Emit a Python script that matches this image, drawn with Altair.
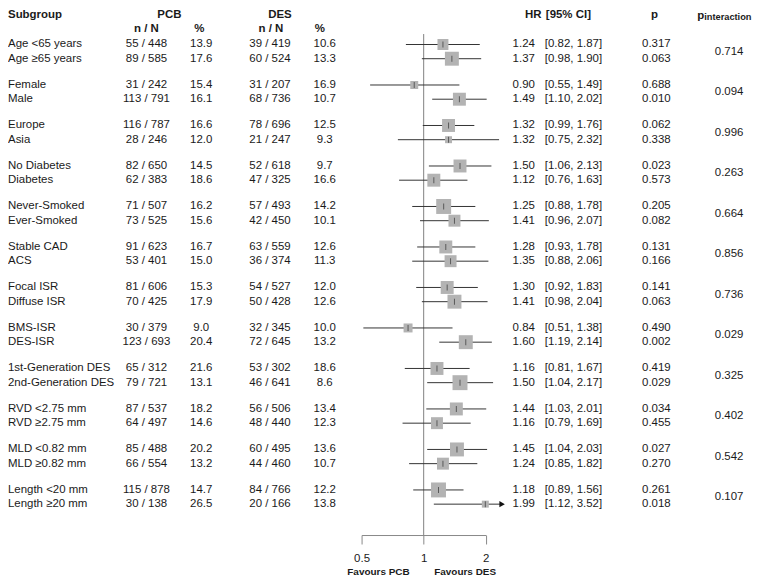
import altair as alt
import pandas as pd

# ---------------- data ----------------
subgroups = ["Age <65 years", "Age ≥65 years", "Female", "Male", "Europe", "Asia",
             "No Diabetes", "Diabetes", "Never-Smoked", "Ever-Smoked", "Stable CAD", "ACS",
             "Focal ISR", "Diffuse ISR", "BMS-ISR", "DES-ISR", "1st-Generation DES",
             "2nd-Generation DES", "RVD <2.75 mm", "RVD ≥2.75 mm", "MLD <0.82 mm",
             "MLD ≥0.82 mm", "Length <20 mm", "Length ≥20 mm"]
pcb_events = [55, 89, 31, 113, 116, 28, 82, 62, 71, 73, 91, 53, 81, 70, 30, 123, 65, 79, 87, 64, 85, 66, 115, 30]
pcb_total = [448, 585, 242, 791, 787, 246, 650, 383, 507, 525, 623, 401, 606, 425, 379, 693, 312, 721, 537, 497, 488, 554, 878, 138]
pcb_pct = [13.9, 17.6, 15.4, 16.1, 16.6, 12.0, 14.5, 18.6, 16.2, 15.6, 16.7, 15.0, 15.3, 17.9, 9.0, 20.4, 21.6, 13.1, 18.2, 14.6, 20.2, 13.2, 14.7, 26.5]
des_events = [39, 60, 31, 68, 78, 21, 52, 47, 57, 42, 63, 36, 54, 50, 32, 72, 53, 46, 56, 48, 60, 44, 84, 20]
des_total = [419, 524, 207, 736, 696, 247, 618, 325, 493, 450, 559, 374, 527, 428, 345, 645, 302, 641, 506, 440, 495, 460, 766, 166]
des_pct = [10.6, 13.3, 16.9, 10.7, 12.5, 9.3, 9.7, 16.6, 14.2, 10.1, 12.6, 11.3, 12.0, 12.6, 10.0, 13.2, 18.6, 8.6, 13.4, 12.3, 13.6, 10.7, 12.2, 13.8]
hr = [1.24, 1.37, 0.90, 1.49, 1.32, 1.32, 1.50, 1.12, 1.25, 1.41, 1.28, 1.35, 1.30, 1.41, 0.84, 1.60, 1.16, 1.50, 1.44, 1.16, 1.45, 1.24, 1.18, 1.99]
ci_low = [0.82, 0.98, 0.55, 1.10, 0.99, 0.75, 1.06, 0.76, 0.88, 0.96, 0.93, 0.88, 0.92, 0.98, 0.51, 1.19, 0.81, 1.04, 1.03, 0.79, 1.04, 0.85, 0.89, 1.12]
ci_high = [1.87, 1.90, 1.49, 2.02, 1.76, 2.32, 2.13, 1.63, 1.78, 2.07, 1.78, 2.06, 1.83, 2.04, 1.38, 2.14, 1.67, 2.17, 2.01, 1.69, 2.03, 1.82, 1.56, 3.52]
p_values = [0.317, 0.063, 0.688, 0.010, 0.062, 0.338, 0.023, 0.573, 0.205, 0.082, 0.131, 0.166, 0.141, 0.063, 0.490, 0.002, 0.419, 0.029, 0.034, 0.455, 0.027, 0.270, 0.261, 0.018]
p_interaction = [0.714, 0.094, 0.996, 0.263, 0.664, 0.856, 0.736, 0.029, 0.325, 0.402, 0.542, 0.107]
weights = [11, 14, 8, 13, 13, 7, 13, 13, 15, 12, 13, 12, 13, 14, 9, 14, 13, 15, 13, 12, 14, 12, 15, 7]
axis_ticks = [0.5, 1, 2]

# ---------------- layout ----------------
FONT = "Liberation Sans"
FS = 11.5
TXT = "#1a1a1a"
GROUP_STEP = 2.85
X_CLIP = 2.40
n_groups = len(p_interaction)

rows = pd.DataFrame({
    "label": subgroups,
    "pcb_nN": [f"{a} / {b}" for a, b in zip(pcb_events, pcb_total)],
    "pcb_pct": [f"{v:.1f}" for v in pcb_pct],
    "des_nN": [f"{a} / {b}" for a, b in zip(des_events, des_total)],
    "des_pct": [f"{v:.1f}" for v in des_pct],
    "hr": hr,
    "lo": ci_low,
    "hi": ci_high,
    "hi_draw": [min(h, X_CLIP) for h in ci_high],
    "clipped": [h > X_CLIP for h in ci_high],
    "hr_txt": [f"{v:.2f}" for v in hr],
    "ci_txt": [f"[{a:.2f}, {b:.2f}]" for a, b in zip(ci_low, ci_high)],
    "p_txt": [f"{v:.3f}" for v in p_values],
    "weight": weights,
    "pos": [(i // 2) * GROUP_STEP + (i % 2) for i in range(len(subgroups))],
})
rows["arrow_x"] = X_CLIP

groups = pd.DataFrame({
    "pint": [f"{v:.3f}" for v in p_interaction],
    "pos": [g * GROUP_STEP + 0.5 for g in range(n_groups)],
})

yscale = alt.Scale(domain=[0, (n_groups - 1) * GROUP_STEP + 1], range=[35.5, 497], nice=False, zero=False)
xscale = alt.Scale(type="log", domain=[0.5, 2], range=[355, 479.7], nice=False)
xaxis = alt.Axis(values=axis_ticks, format="~g", title=None, grid=False,
                 domainColor="#888888", tickColor="#888888", tickSize=9,
                 labelFont=FONT, labelFontSize=FS, labelColor=TXT, labelPadding=9,
                 labelFlush=False)

Y = alt.Y("pos:Q", scale=yscale, axis=None)

ref = alt.Chart(pd.DataFrame({"x": [1]})).mark_rule(color="#808080", strokeWidth=1).encode(
    x=alt.X("x:Q", scale=xscale, axis=xaxis), y=alt.value(25), y2=alt.value(528))

base = alt.Chart(rows)
ci = base.mark_rule(color="#333333", strokeWidth=1).encode(
    x=alt.X("lo:Q", scale=xscale, axis=xaxis), x2="hi_draw:Q", y=Y)
boxes = base.mark_square(color="#b3b3b3", opacity=1).encode(
    x=alt.X("hr:Q", scale=xscale, axis=xaxis), y=Y,
    size=alt.Size("weight:Q", scale=alt.Scale(type="pow", exponent=2, domain=[0, 15], range=[0, 225]), legend=None))
ticks = base.mark_tick(color="#333333", thickness=1, size=6, orient="vertical").encode(
    x=alt.X("hr:Q", scale=xscale, axis=xaxis), y=Y)
arrows = base.transform_filter("datum.clipped").mark_point(
    shape="triangle-right", filled=True, color="#111111", size=40, opacity=1).encode(
    x=alt.X("arrow_x:Q", scale=xscale, axis=xaxis), y=Y)


def col(field, x, align):
    return base.mark_text(align=align, baseline="middle", font=FONT, fontSize=FS, color=TXT).encode(
        text=f"{field}:N", x=alt.value(x), y=Y)


def label(txt, x, y, align="left", bold=True, size=FS, baseline="middle"):
    return alt.Chart(pd.DataFrame({"t": [txt]})).mark_text(
        align=align, baseline=baseline, font=FONT, fontSize=size,
        fontWeight="bold" if bold else "normal", color=TXT).encode(
        text="t:N", x=alt.value(x), y=alt.value(y))


pint_col = alt.Chart(groups).mark_text(align="center", baseline="middle", font=FONT, fontSize=FS, color=TXT).encode(
    text="pint:N", x=alt.value(724), y=Y)

layers = [
    ref, ci, boxes, ticks, arrows,
    col("label", 0, "left"),
    col("pcb_nN", 139, "center"),
    col("pcb_pct", 194, "center"),
    col("des_nN", 263, "center"),
    col("des_pct", 318, "center"),
    col("hr_txt", 529, "right"),
    col("ci_txt", 539, "left"),
    col("p_txt", 651, "center"),
    pint_col,
    label("Subgroup", 0, 6),
    label("PCB", 162, 6, "center"),
    label("DES", 273, 6, "center"),
    label("n / N", 139, 20, "center"),
    label("%", 192, 20, "center"),
    label("n / N", 264, 20, "center"),
    label("%", 313, 20, "center"),
    label("HR", 519, 6),
    label("[95% CI]", 540, 6),
    label("p", 649, 6, "center"),
    label("p", 692, 10, baseline="alphabetic"),
    label("interaction", 699, 11, size=9.3, baseline="alphabetic"),
    label("Favours PCB", 372, 565, "center", size=10),
    label("Favours DES", 459, 565, "center", size=10),
]

chart = alt.layer(*layers).properties(
    width=744, height=528, padding=0
).configure_view(stroke=None)

chart.save("out.html", embed_options={"renderer": "svg", "actions": False})
